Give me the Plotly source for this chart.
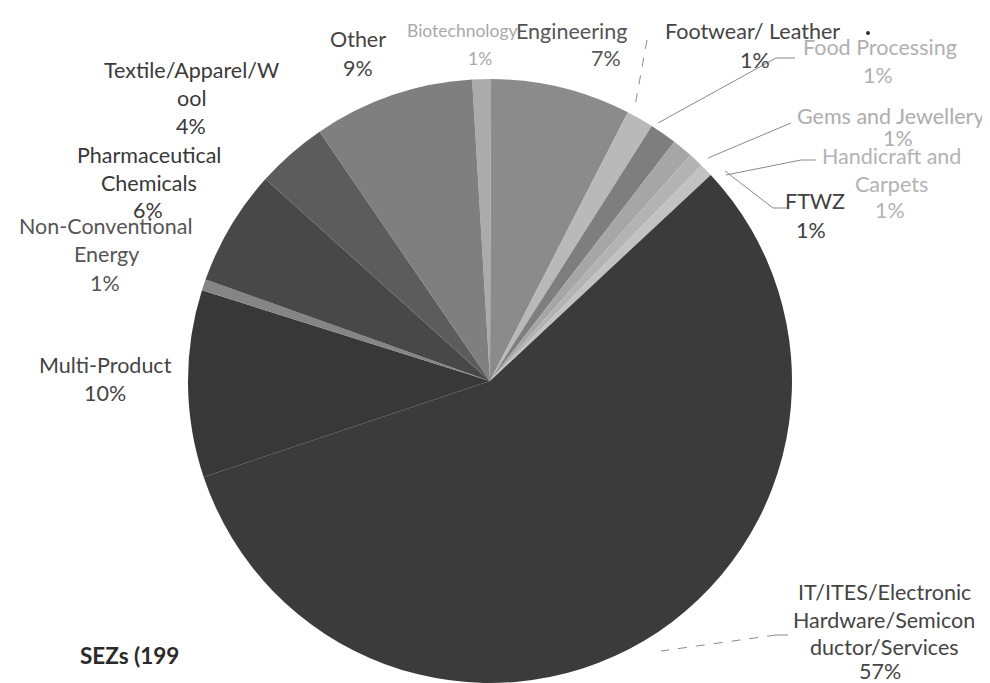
import plotly.graph_objects as go

W, H = 990, 683

categories = [
    "Biotechnology", "Engineering", "Footwear/ Leather", "Food Processing",
    "Gems and Jewellery", "Handicraft and Carpets", "FTWZ",
    "IT/ITES/Electronic Hardware/Semiconductor/Services", "Multi-Product",
    "Non-Conventional Energy", "Pharmaceutical Chemicals",
    "Textile/Apparel/Wool", "Other",
]
values = [1.0, 7.49, 1.45, 1.45, 1.1, 0.8, 0.7, 56.8, 10.0, 0.6, 6.2, 3.8, 8.6]
slice_colors = [
    "#ababab", "#8b8b8b", "#b9b9b9", "#7e7e7e", "#a6a6a6", "#b3b3b3", "#c2c2c2",
    "#3b3b3b", "#383838", "#858585", "#484848", "#5c5c5c", "#7f7f7f",
]
label_lines = [
    ["Biotechnology"], ["Engineering"], ["Footwear/ Leather"], ["Food Processing"],
    ["Gems and Jewellery"], ["Handicraft and", "Carpets"], ["FTWZ"],
    ["IT/ITES/Electronic", "Hardware/Semicon", "ductor/Services"], ["Multi-Product"],
    ["Non-Conventional", "Energy"], ["Pharmaceutical", "Chemicals"],
    ["Textile/Apparel/W", "ool"], ["Other"],
]
title_text = "SEZs (199"

# label layout (pixel): name centre x, first line y, percent x, percent y, colour, size
label_pos = [
    (454, 23, 472, 50, "#a9a9a9", 17.5),
    (563, 23, 598, 50, "#555555", 21.5),
    (744, 23, 747, 52, "#444444", 21.5),
    (872, 39, 870, 67, "#b0b0b0", 21.5),
    (882, 108, 890, 130, "#adadad", 21.5),
    (883, 148, 882, 202, "#b3b3b3", 21.5),
    (807, 193, 803, 222, "#404040", 21.5),
    (876, 584, 872, 663, "#444444", 21.5),
    (97, 357, 97, 385, "#444444", 21.5),
    (98, 218, 97, 275, "#555555", 21.5),
    (141, 147, 140, 202, "#383838", 21.5),
    (183, 62, 183, 118, "#3a3a3a", 21.5),
    (350, 31, 350, 60, "#444444", 21.5),
]
line_gap = 27.5

leaders = [  # (x0, y0, x1, y1, dash)
    (639, 32, 627, 98, "dash"),
    (787, 50, 768, 50, "solid"),
    (768, 50, 650, 115, "solid"),
    (783, 115, 700, 150, "solid"),
    (808, 152, 793, 152, "solid"),
    (793, 152, 718, 167, "solid"),
    (780, 200, 765, 200, "solid"),
    (765, 200, 717, 163, "solid"),
    (780, 627, 768, 627, "solid"),
    (768, 627, 653, 643, "dash"),
]


def px(x):
    return x / W


def py(y):
    return 1 - y / H


fig = go.Figure(
    go.Pie(
        labels=categories,
        values=values,
        sort=False,
        direction="clockwise",
        rotation=-3.4,
        marker=dict(colors=slice_colors, line=dict(width=0)),
        textinfo="none",
        showlegend=False,
        domain=dict(x=[px(180), px(784)], y=[py(675), py(71)]),
    )
)

total = sum(values)
FONT = "Lato, 'Open Sans', sans-serif"
annotations = []
for lines, (x, y0, pxx, pyy, col, fs), v in zip(label_lines, label_pos, values):
    for i, ln in enumerate(lines):
        annotations.append(dict(
            x=px(x), y=py(y0 + i * line_gap), xref="paper", yref="paper",
            text=ln, showarrow=False, xanchor="center", yanchor="middle",
            font=dict(family=FONT, size=fs, color=col),
        ))
    annotations.append(dict(
        x=px(pxx), y=py(pyy), xref="paper", yref="paper",
        text=f"{round(v / total * 100)}%", showarrow=False,
        xanchor="center", yanchor="middle",
        font=dict(family=FONT, size=fs, color=col),
    ))

annotations.append(dict(
    x=px(121), y=py(647), xref="paper", yref="paper", text=f"<b>{title_text}</b>",
    showarrow=False, xanchor="center", yanchor="middle",
    font=dict(family=FONT, size=22.5, color="#2a2a2a"),
))

shapes = []
for x0, y0, x1, y1, d in leaders:
    shapes.append(dict(
        type="line", xref="paper", yref="paper",
        x0=px(x0), y0=py(y0), x1=px(x1), y1=py(y1),
        line=dict(color="#8a8a8a", width=1, dash=d),
    ))
shapes.append(dict(
    type="circle", xref="paper", yref="paper",
    x0=px(858), y0=py(23), x1=px(862), y1=py(27),
    fillcolor="#333333", line=dict(width=0),
))

fig.update_layout(
    width=W, height=H,
    margin=dict(l=0, r=0, t=0, b=0),
    paper_bgcolor="white", plot_bgcolor="white",
    annotations=annotations, shapes=shapes,
)

fig.write_html("out.html")
